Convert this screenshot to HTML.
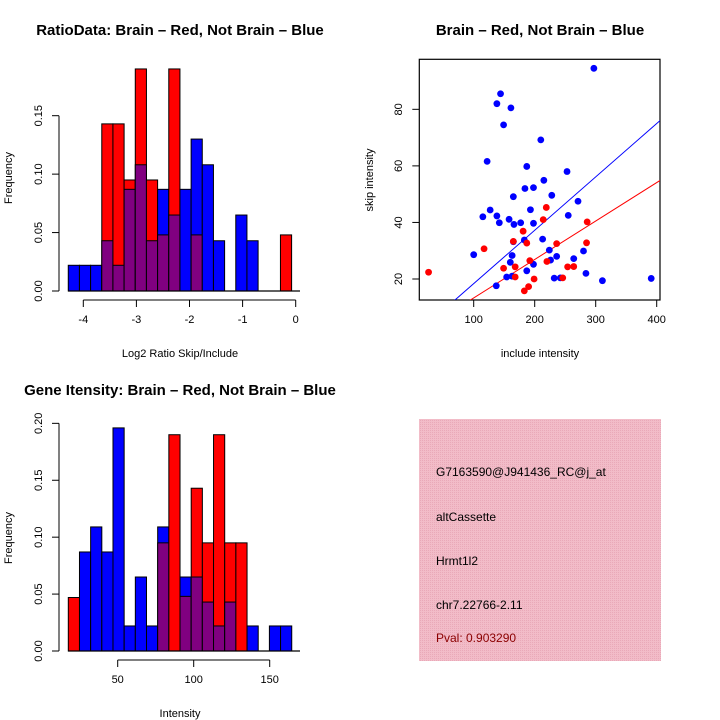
<!DOCTYPE html>
<html><head><meta charset="utf-8"><style>
body{margin:0;background:#fff}
svg{display:block;font-family:"Liberation Sans",sans-serif}
</style></head><body>
<svg id="s" width="720" height="720">
<defs><pattern id="pk" width="2" height="2" patternUnits="userSpaceOnUse"><rect width="2" height="2" fill="#f2bcc8"/><rect width="1" height="1" fill="#e9a9b8"/></pattern></defs>
</svg>
<script>
// Top-left histogram (log2 ratio)
const ratioBlue=[0.022,0.022,0.022,0.043,0.022,0.087,0.108,0.043,0.087,0.065,0.087,0.130,0.108,0.043,0,0.065,0.043,0,0,0];
const ratioRed=[0,0,0,0.143,0.143,0.095,0.190,0.095,0.048,0.190,0,0.048,0,0,0,0,0,0,0,0.048];
const ratioXTicks=[-4,-3,-2,-1,0];
const ratioYTicks=[0,0.05,0.10,0.15];
const ratioYLabels=["0.00","0.05","0.10","0.15"];
// Bottom-left histogram (intensity)
const intBlue=[0,0.087,0.109,0.087,0.196,0.022,0.065,0.022,0.109,0,0.065,0.065,0.043,0.022,0.043,0,0.022,0,0.022,0.022];
const intRed=[0.047,0,0,0,0,0,0,0,0.095,0.190,0.048,0.143,0.095,0.190,0.095,0.095,0,0,0,0];
const intXTicks=[50,100,150];
const intYTicks=[0,0.05,0.10,0.15,0.20];
const intYLabels=["0.00","0.05","0.10","0.15","0.20"];
// Scatter
const blueX=[297,144,138,161,149,210,122,187,253,215,184,198,228,165,271,127,193,115,138,255,158,142,166,177,198,165,183,213,224,280,100,163,236,160,226,264,198,187,284,154,163,232,242,311,391,137];
const blueY=[94.5,85.5,82,80.5,74.5,69.2,61.6,59.8,58,54.9,52,52.3,49.6,49.1,47.5,44.4,44.5,42,42.3,42.5,41.1,39.9,39.3,39.9,39.7,33.2,33.8,34.1,30.2,29.9,28.6,28.3,28,25.9,26.7,27.2,25.2,22.9,22,20.7,21,20.3,20.4,19.4,20.2,17.6];
const redX=[26,117,165,181,187,219,214,286,236,285,149,168,168,192,220,254,264,199,246,190,183];
const redY=[22.4,30.7,33.3,36.9,32.7,45.3,41,40.2,32.5,32.8,23.8,24.3,20.7,26.5,26.2,24.3,24.4,20,20.4,17.3,15.8];
const blueFit=[-0.5,0.1887];
const redFit=[-0.3,0.136];
const scXTicks=[100,200,300,400];
const scYTicks=[20,40,60,80];

const S=document.getElementById('s');
const NS='http://www.w3.org/2000/svg';
function mk(t,a,p){const e=document.createElementNS(NS,t);for(const k in a)e.setAttribute(k,a[k]);(p||S).appendChild(e);return e;}
function txt(x,y,s,o){const e=mk('text',Object.assign({x:x,y:y,'font-size':11,'text-anchor':'middle',fill:'#000'},o||{}));e.textContent=s;return e;}

function hist(cfg){
  const g=mk('g',{});
  
  
  const X=v=>cfg.xa+(v-cfg.xv0)*cfg.xs;
  const Y=v=>cfg.y0-v*cfg.ys;
  const bw=cfg.bw;
  for(let i=0;i<cfg.blue.length;i++){
    const b=cfg.blue[i],r=cfg.red[i];
    const x=X(cfg.b0+i*bw),w=bw*cfg.xs;
    const mx=Math.max(b,r),mn=Math.min(b,r);
    if(mx>0){const e=mk('rect',{x:x,y:Y(mx),width:w,height:mx*cfg.ys,fill:b>=r?'#0000ff':'#ff0000',stroke:'#000','stroke-width':1},g);
      
      }
    if(mn>0){const e=mk('rect',{x:x,y:Y(mn),width:w,height:mn*cfg.ys,fill:'#800080',stroke:'#000','stroke-width':1},g);
      
      }
  }
  const yt=cfg.yticks;
  mk('line',{x1:59,x2:59,y1:Y(yt[0]),y2:Y(yt[yt.length-1]),stroke:'#000'},g);
  yt.forEach((v,i)=>{mk('line',{x1:52,x2:59,y1:Y(v),y2:Y(v),stroke:'#000'},g);
    const t=txt(42,Y(v),cfg.ylabels[i],{transform:`rotate(-90 42 ${Y(v)})`});
    
    });
  mk('line',{x1:68,x2:300,y1:cfg.y0,y2:cfg.y0,stroke:'#000','stroke-width':1.2},g);
  const xt=cfg.xticks;const ay=cfg.y0+9;
  mk('line',{x1:X(xt[0]),x2:X(xt[xt.length-1]),y1:ay,y2:ay,stroke:'#000'},g);
  xt.forEach(v=>{mk('line',{x1:X(v),x2:X(v),y1:ay,y2:ay+7,stroke:'#000'},g);
    const t=txt(X(v),ay+23,String(v));
    
    });
}
hist({name:'ratio-histogram',blue:ratioBlue,red:ratioRed,xa:83.3,xv0:-4,xs:53.1,b0:-4.283,bw:0.2103,y0:291,ys:1168.7,yticks:ratioYTicks,ylabels:ratioYLabels,xticks:ratioXTicks});
hist({name:'intensity-histogram',blue:intBlue,red:intRed,xa:117.7,xv0:50,xs:1.52,b0:17.5,bw:7.35,y0:651,ys:1138.3,yticks:intYTicks,ylabels:intYLabels,xticks:intXTicks});

function lab(x,y,s,name,o){const t=txt(x,y,s,o);return t;}
lab(180,35,'RatioData: Brain \u2013 Red, Not Brain \u2013 Blue','ratio-title',{'font-size':15,'font-weight':'bold'});
lab(540,35,'Brain \u2013 Red, Not Brain \u2013 Blue','scatter-title',{'font-size':15,'font-weight':'bold'});
lab(180,395,'Gene Itensity: Brain \u2013 Red, Not Brain \u2013 Blue','intensity-title',{'font-size':15,'font-weight':'bold'});
lab(180,357,'Log2 Ratio Skip/Include','ratio-x-axis-title');
lab(180,717,'Intensity','intensity-x-axis-title');
lab(540,357,'include intensity','scatter-x-axis-title');
lab(12,178,'Frequency','ratio-y-axis-title',{transform:'rotate(-90 12 178)'});
lab(12,538,'Frequency','intensity-y-axis-title',{transform:'rotate(-90 12 538)'});
lab(373,180,'skip intensity','scatter-y-axis-title',{transform:'rotate(-90 373 180)'});

(function(){
  const g=mk('g',{});
  
  
  const L=419.3,R=660,T=59.3,B=300;
  const X=v=>473.7+(v-100)*0.61;
  const Y=v=>279-(v-20)*2.828;
  mk('clipPath',{id:'cp'},g);
  mk('rect',{x:L,y:T,width:R-L,height:B-T},document.getElementById('cp'));
  mk('rect',{x:L,y:T,width:R-L,height:B-T,fill:'none',stroke:'#000','stroke-width':1.2},g);
  scXTicks.forEach(v=>{mk('line',{x1:X(v),x2:X(v),y1:B,y2:B+7,stroke:'#000'},g);
    const t=txt(X(v),B+23,String(v));});
  scYTicks.forEach(v=>{mk('line',{x1:L-7,x2:L,y1:Y(v),y2:Y(v),stroke:'#000'},g);
    const t=txt(402,Y(v),String(v),{transform:`rotate(-90 402 ${Y(v)})`});});
  const cg=mk('g',{'clip-path':'url(#cp)'},g);
  [[blueFit,'#0000ff'],[redFit,'#ff0000']].forEach(([f,c])=>{
    const x1=0,x2=420;
    const l=mk('line',{x1:X(x1),y1:Y(f[0]+f[1]*x1),x2:X(x2),y2:Y(f[0]+f[1]*x2),stroke:c,'stroke-width':1},cg);
    
    
  });
  blueX.forEach((v,i)=>{const c=mk('circle',{cx:X(v),cy:Y(blueY[i]),r:3.4,fill:'#0000ff'},cg);
    });
  redX.forEach((v,i)=>{const c=mk('circle',{cx:X(v),cy:Y(redY[i]),r:3.4,fill:'#ff0000'},cg);
    });
})();

(function(){
  const g=mk('g',{});
  
  
  mk('rect',{x:419,y:419,width:242,height:242,fill:'url(#pk)'},g);
  const lines=[['G7163590@J941436_RC@j_at',476,'#000','probe-id'],['altCassette',521,'#000','event-type'],['Hrmt1l2',565,'#000','gene-name'],['chr7.22766-2.11',609,'#000','locus'],['Pval: 0.903290',642,'#8b0000','pvalue']];
  lines.forEach(([s,y,c,n])=>{const t=txt(436,y,s,{'text-anchor':'start',fill:c,'font-size':12});
    g.appendChild(t);});
})();
</script>
</body></html>
